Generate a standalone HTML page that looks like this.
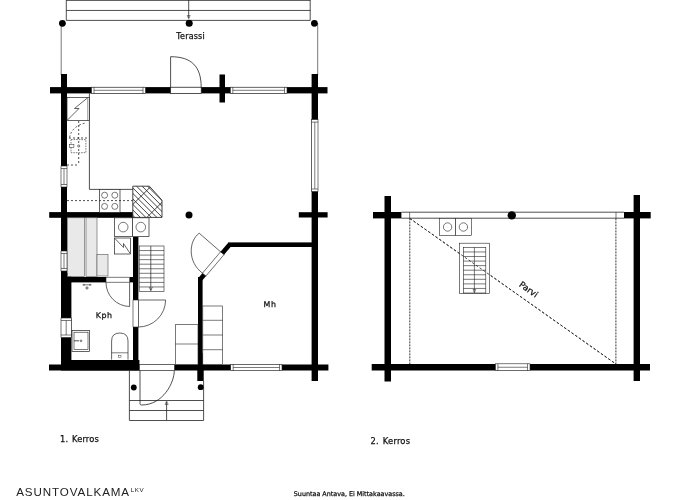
<!DOCTYPE html>
<html lang="fi"><head><meta charset="utf-8"><title>Pohjakuva</title>
<style>html,body{margin:0;padding:0;background:#fff;}body{width:700px;height:500px;overflow:hidden;}svg{display:block;filter:grayscale(1);}</style>
</head><body>
<svg width="700" height="500" viewBox="0 0 700 500">
<rect x="0" y="0" width="700" height="500" fill="#fff"/>
<line x1="66.30" y1="0.40" x2="310.20" y2="0.40" stroke="#222" stroke-width="0.8"/>
<line x1="66.30" y1="10.45" x2="310.20" y2="10.45" stroke="#222" stroke-width="0.8"/>
<line x1="66.30" y1="20.40" x2="310.20" y2="20.40" stroke="#222" stroke-width="0.8"/>
<line x1="66.30" y1="0.00" x2="66.30" y2="20.40" stroke="#222" stroke-width="0.8"/>
<line x1="310.20" y1="0.00" x2="310.20" y2="20.40" stroke="#222" stroke-width="0.8"/>
<line x1="188.70" y1="0.00" x2="188.70" y2="18.00" stroke="#222" stroke-width="0.8"/>
<path d="M187.2,15.5 L188.7,18.8 L190.2,15.5 Z" fill="none" stroke="#222" stroke-width="0.5"/>
<line x1="61.20" y1="23.00" x2="61.20" y2="75.00" stroke="#555" stroke-width="0.8"/>
<line x1="317.70" y1="23.00" x2="317.70" y2="75.00" stroke="#555" stroke-width="0.8"/>
<circle cx="62.40" cy="23.30" r="3.40" fill="#000"/>
<circle cx="189.20" cy="23.30" r="3.50" fill="#000"/>
<circle cx="314.40" cy="23.30" r="3.40" fill="#000"/>
<rect x="61.00" y="74.00" width="6.00" height="291.00" fill="#000"/>
<rect x="50.00" y="87.10" width="277.50" height="6.30" fill="#000"/>
<rect x="219.50" y="74.50" width="5.50" height="28.00" fill="#000"/>
<rect x="311.60" y="74.00" width="6.40" height="307.00" fill="#000"/>
<rect x="49.20" y="212.10" width="84.20" height="5.70" fill="#000"/>
<rect x="298.80" y="212.20" width="28.80" height="5.30" fill="#000"/>
<rect x="49.00" y="364.50" width="279.40" height="6.00" fill="#000"/>
<rect x="61.00" y="360.00" width="78.40" height="10.50" fill="#000"/>
<rect x="61.00" y="273.00" width="10.40" height="97.00" fill="#000"/>
<rect x="133.00" y="237.00" width="5.40" height="128.00" fill="#000"/>
<rect x="61.00" y="277.00" width="45.00" height="5.40" fill="#000"/>
<rect x="129.60" y="277.00" width="8.40" height="5.40" fill="#000"/>
<rect x="228.00" y="242.40" width="84.00" height="4.60" fill="#000"/>
<path d="M229.5,244.7 L200.5,279" fill="none" stroke="#000" stroke-width="4.6"/>
<rect x="198.00" y="277.00" width="4.60" height="104.00" fill="#000"/>
<rect x="197.30" y="353.00" width="6.40" height="28.00" fill="#000"/>
<rect x="91.50" y="87.20" width="54.00" height="6.20" fill="#fff" stroke="#222" stroke-width="0.6"/>
<line x1="94.00" y1="90.30" x2="143.00" y2="90.30" stroke="#222" stroke-width="0.6"/>
<line x1="94.00" y1="87.20" x2="94.00" y2="93.40" stroke="#222" stroke-width="0.6"/>
<line x1="143.00" y1="87.20" x2="143.00" y2="93.40" stroke="#222" stroke-width="0.6"/>
<rect x="230.30" y="87.20" width="56.70" height="6.20" fill="#fff" stroke="#222" stroke-width="0.6"/>
<line x1="232.80" y1="90.30" x2="284.50" y2="90.30" stroke="#222" stroke-width="0.6"/>
<line x1="232.80" y1="87.20" x2="232.80" y2="93.40" stroke="#222" stroke-width="0.6"/>
<line x1="284.50" y1="87.20" x2="284.50" y2="93.40" stroke="#222" stroke-width="0.6"/>
<rect x="230.70" y="364.30" width="51.30" height="6.40" fill="#fff" stroke="#222" stroke-width="0.6"/>
<line x1="233.20" y1="367.50" x2="279.50" y2="367.50" stroke="#222" stroke-width="0.6"/>
<line x1="233.20" y1="364.30" x2="233.20" y2="370.70" stroke="#222" stroke-width="0.6"/>
<line x1="279.50" y1="364.30" x2="279.50" y2="370.70" stroke="#222" stroke-width="0.6"/>
<rect x="61.00" y="166.00" width="6.00" height="21.00" fill="#fff" stroke="#222" stroke-width="0.6"/>
<line x1="64.00" y1="168.50" x2="64.00" y2="184.50" stroke="#222" stroke-width="0.6"/>
<line x1="61.00" y1="168.50" x2="67.00" y2="168.50" stroke="#222" stroke-width="0.6"/>
<line x1="61.00" y1="184.50" x2="67.00" y2="184.50" stroke="#222" stroke-width="0.6"/>
<rect x="61.00" y="251.00" width="6.00" height="20.00" fill="#fff" stroke="#222" stroke-width="0.6"/>
<line x1="64.00" y1="253.50" x2="64.00" y2="268.50" stroke="#222" stroke-width="0.6"/>
<line x1="61.00" y1="253.50" x2="67.00" y2="253.50" stroke="#222" stroke-width="0.6"/>
<line x1="61.00" y1="268.50" x2="67.00" y2="268.50" stroke="#222" stroke-width="0.6"/>
<rect x="61.00" y="318.00" width="10.40" height="19.50" fill="#fff" stroke="#222" stroke-width="0.6"/>
<line x1="66.20" y1="320.50" x2="66.20" y2="335.00" stroke="#222" stroke-width="0.6"/>
<line x1="61.00" y1="320.50" x2="71.40" y2="320.50" stroke="#222" stroke-width="0.6"/>
<line x1="61.00" y1="335.00" x2="71.40" y2="335.00" stroke="#222" stroke-width="0.6"/>
<rect x="311.60" y="119.60" width="6.40" height="71.90" fill="#fff" stroke="#222" stroke-width="0.6"/>
<line x1="314.80" y1="122.10" x2="314.80" y2="189.00" stroke="#222" stroke-width="0.6"/>
<line x1="311.60" y1="122.10" x2="318.00" y2="122.10" stroke="#222" stroke-width="0.6"/>
<line x1="311.60" y1="189.00" x2="318.00" y2="189.00" stroke="#222" stroke-width="0.6"/>
<rect x="170.60" y="87.20" width="30.60" height="6.20" fill="#fff" stroke="#222" stroke-width="0.7"/>
<path d="M170.6,87.3 L170.6,56.7 C191.4,56.7 201.2,66.4 201.2,87.3" fill="none" stroke="#222" stroke-width="0.8"/>
<path d="M222.3,253.2 L204.2,274.6" fill="none" stroke="#fff" stroke-width="5.2"/>
<path d="M224.0,254.6 L205.9,276.0" fill="none" stroke="#222" stroke-width="0.6"/>
<path d="M220.6,251.8 L202.5,273.2" fill="none" stroke="#222" stroke-width="0.6"/>
<path d="M222.3,253.2 L220.6,251.8 L199.2,233.2 C188.5,241 187.5,262 202.5,273.2" fill="none" stroke="#222" stroke-width="0.7"/>
<line x1="220.30" y1="251.40" x2="224.30" y2="254.90" stroke="#222" stroke-width="0.6"/>
<line x1="202.20" y1="272.90" x2="206.20" y2="276.30" stroke="#222" stroke-width="0.6"/>
<rect x="106.00" y="277.20" width="23.60" height="5.00" fill="#fff" stroke="#222" stroke-width="0.6"/>
<path d="M129.6,282.3 L129.6,306.5 M129.6,306.5 A24,24 0 0 1 106,282.3" fill="none" stroke="#222" stroke-width="0.7"/>
<rect x="133.00" y="300.00" width="5.40" height="27.00" fill="#fff" stroke="#222" stroke-width="0.6"/>
<path d="M138.4,300 L165.6,300 A27.2,27.2 0 0 1 138.4,327" fill="none" stroke="#222" stroke-width="0.7"/>
<rect x="139.40" y="364.40" width="35.10" height="6.20" fill="#fff" stroke="#222" stroke-width="0.6"/>
<path d="M140,370.5 L140,403.5 Q140,405 141.5,405 C163.3,405 174.3,382.4 174.3,370.5" fill="none" stroke="#222" stroke-width="0.8"/>
<line x1="129.40" y1="370.50" x2="129.40" y2="420.40" stroke="#222" stroke-width="0.8"/>
<line x1="203.60" y1="381.00" x2="203.60" y2="420.40" stroke="#222" stroke-width="0.8"/>
<line x1="129.40" y1="400.50" x2="203.60" y2="400.50" stroke="#222" stroke-width="0.8"/>
<line x1="129.40" y1="410.50" x2="203.60" y2="410.50" stroke="#222" stroke-width="0.8"/>
<line x1="129.40" y1="420.50" x2="203.60" y2="420.50" stroke="#222" stroke-width="0.8"/>
<line x1="166.60" y1="420.40" x2="166.60" y2="402.00" stroke="#222" stroke-width="0.8"/>
<path d="M165,404.5 L166.6,401 L168.2,404.5 Z" fill="none" stroke="#222" stroke-width="0.5"/>
<circle cx="133.80" cy="387.50" r="2.90" fill="#000"/>
<circle cx="200.70" cy="387.20" r="2.90" fill="#000"/>
<line x1="89.40" y1="93.20" x2="89.40" y2="189.40" stroke="#222" stroke-width="0.8"/>
<line x1="89.40" y1="189.40" x2="133.00" y2="189.40" stroke="#222" stroke-width="0.8"/>
<rect x="67.00" y="97.40" width="22.40" height="23.20" fill="#fff" stroke="#222" stroke-width="0.7"/>
<line x1="87.80" y1="97.40" x2="87.80" y2="120.60" stroke="#222" stroke-width="0.5"/>
<path d="M67.5,120 L79,108.5 L74.5,108.5 L87.3,98" fill="none" stroke="#222" stroke-width="0.7"/>
<line x1="78.70" y1="121.00" x2="78.70" y2="165.00" stroke="#222" stroke-width="0.8" stroke-dasharray="2,2"/>
<line x1="67.00" y1="165.00" x2="78.70" y2="165.00" stroke="#222" stroke-width="0.8" stroke-dasharray="2,2"/>
<rect x="71" y="139.6" width="14.9" height="13.1" fill="none" stroke="#222" stroke-width="0.6" stroke-dasharray="1.6,1"/>
<path d="M69.5,137.5 Q72,126 85.5,123" fill="none" stroke="#222" stroke-width="0.8" stroke-dasharray="2,2"/>
<line x1="69.00" y1="138.00" x2="89.00" y2="138.00" stroke="#222" stroke-width="0.8" stroke-dasharray="2,2"/>
<rect x="69.40" y="144.60" width="4.50" height="2.80" fill="#fff" stroke="#222" stroke-width="0.5"/>
<circle cx="78.70" cy="146.00" r="1.10" fill="#fff" stroke="#222" stroke-width="0.6"/>
<rect x="99.40" y="189.40" width="20.60" height="23.00" fill="#fff" stroke="#222" stroke-width="0.7"/>
<circle cx="104.60" cy="195.20" r="3.00" fill="#fff" stroke="#222" stroke-width="0.6"/>
<circle cx="104.60" cy="206.40" r="3.00" fill="#fff" stroke="#222" stroke-width="0.6"/>
<circle cx="114.80" cy="195.20" r="3.00" fill="#fff" stroke="#222" stroke-width="0.6"/>
<circle cx="114.80" cy="206.40" r="3.00" fill="#fff" stroke="#222" stroke-width="0.6"/>
<line x1="67.00" y1="200.60" x2="133.00" y2="200.60" stroke="#222" stroke-width="0.8" stroke-dasharray="2,2"/>
<defs><clipPath id="fpc"><path d="M132.8,186.2 L149.4,186.2 L162,200.2 L162,217.4 L132.8,217.4 Z"/></clipPath></defs>
<path d="M132.8,186.2 L149.4,186.2 L162,200.2 L162,217.4 L132.8,217.4 Z" fill="#fff" stroke="#222" stroke-width="0"/>
<g clip-path="url(#fpc)">
<line x1="120.00" y1="158.60" x2="170.00" y2="208.60" stroke="#222" stroke-width="0.85"/>
<line x1="120.00" y1="164.10" x2="170.00" y2="214.10" stroke="#222" stroke-width="0.85"/>
<line x1="120.00" y1="169.60" x2="170.00" y2="219.60" stroke="#222" stroke-width="0.85"/>
<line x1="120.00" y1="175.10" x2="170.00" y2="225.10" stroke="#222" stroke-width="0.85"/>
<line x1="120.00" y1="180.60" x2="170.00" y2="230.60" stroke="#222" stroke-width="0.85"/>
<line x1="120.00" y1="186.10" x2="170.00" y2="236.10" stroke="#222" stroke-width="0.85"/>
<line x1="120.00" y1="191.60" x2="170.00" y2="241.60" stroke="#222" stroke-width="0.85"/>
<line x1="120.00" y1="197.10" x2="170.00" y2="247.10" stroke="#222" stroke-width="0.85"/>
<line x1="120.00" y1="202.60" x2="170.00" y2="252.60" stroke="#222" stroke-width="0.85"/>
<line x1="120.00" y1="208.10" x2="170.00" y2="258.10" stroke="#222" stroke-width="0.85"/>
<line x1="120.00" y1="217.30" x2="170.00" y2="167.30" stroke="#222" stroke-width="0.85"/>
<line x1="120.00" y1="244.30" x2="170.00" y2="194.30" stroke="#222" stroke-width="0.85"/>
</g>
<path d="M132.8,186.2 L149.4,186.2 L162,200.2 L162,217.4 L132.8,217.4 Z" fill="none" stroke="#222" stroke-width="0.85"/>
<rect x="114.40" y="217.80" width="18.00" height="18.80" fill="#fff" stroke="#222" stroke-width="0.7"/>
<rect x="132.40" y="217.80" width="16.60" height="18.80" fill="#fff" stroke="#222" stroke-width="0.7"/>
<circle cx="123.20" cy="227.10" r="4.80" fill="#fff" stroke="#222" stroke-width="0.6"/>
<circle cx="140.80" cy="227.10" r="4.80" fill="#fff" stroke="#222" stroke-width="0.6"/>
<rect x="114.40" y="238.00" width="16.20" height="16.00" fill="#fff" stroke="#222" stroke-width="0.7"/>
<path d="M114.8,238.4 L123.5,247.5 L123.5,243.5 L130.2,253.6" fill="none" stroke="#222" stroke-width="0.7"/>
<rect x="67.50" y="217.80" width="16.90" height="58.80" fill="#e9e9e9" stroke="#555" stroke-width="0.6"/>
<rect x="86.00" y="217.80" width="11.00" height="58.80" fill="#e9e9e9" stroke="#555" stroke-width="0.6"/>
<rect x="97.00" y="254.40" width="11.00" height="21.60" fill="#e9e9e9" stroke="#555" stroke-width="0.6"/>
<rect x="139.20" y="246.00" width="24.80" height="45.50" fill="#fff" stroke="#222" stroke-width="0.6"/>
<line x1="139.20" y1="250.55" x2="164.00" y2="250.55" stroke="#222" stroke-width="0.6"/>
<line x1="139.20" y1="255.10" x2="164.00" y2="255.10" stroke="#222" stroke-width="0.6"/>
<line x1="139.20" y1="259.65" x2="164.00" y2="259.65" stroke="#222" stroke-width="0.6"/>
<line x1="139.20" y1="264.20" x2="164.00" y2="264.20" stroke="#222" stroke-width="0.6"/>
<line x1="139.20" y1="268.75" x2="164.00" y2="268.75" stroke="#222" stroke-width="0.6"/>
<line x1="139.20" y1="273.30" x2="164.00" y2="273.30" stroke="#222" stroke-width="0.6"/>
<line x1="139.20" y1="277.85" x2="164.00" y2="277.85" stroke="#222" stroke-width="0.6"/>
<line x1="139.20" y1="282.40" x2="164.00" y2="282.40" stroke="#222" stroke-width="0.6"/>
<line x1="139.20" y1="286.95" x2="164.00" y2="286.95" stroke="#222" stroke-width="0.6"/>
<line x1="150.80" y1="246.00" x2="150.80" y2="290.50" stroke="#222" stroke-width="0.7"/>
<path d="M149.2,287 L150.8,290.6 L152.4,287" fill="none" stroke="#222" stroke-width="0.6"/>
<line x1="82.50" y1="284.80" x2="91.50" y2="284.80" stroke="#222" stroke-width="0.6"/>
<line x1="84.00" y1="283.80" x2="84.00" y2="286.00" stroke="#222" stroke-width="0.6"/>
<line x1="90.00" y1="283.80" x2="90.00" y2="286.00" stroke="#222" stroke-width="0.6"/>
<circle cx="87.00" cy="288.00" r="1.10" fill="#fff" stroke="#222" stroke-width="0.7"/>
<rect x="72.00" y="330.40" width="17.60" height="21.00" fill="#fff" stroke="#222" stroke-width="0.7"/>
<rect x="74.00" y="332.20" width="14.00" height="17.20" fill="#fff" stroke="#222" stroke-width="0.6"/>
<line x1="74.00" y1="340.80" x2="79.00" y2="340.80" stroke="#222" stroke-width="0.8"/>
<circle cx="81.00" cy="340.80" r="0.90" fill="#fff" stroke="#222" stroke-width="0.6"/>
<path d="M111.6,359.6 L111.6,341 Q111.6,333 119.8,333 Q128,333 128,341 L128,359.6" fill="#fff" stroke="#222" stroke-width="0.7"/>
<line x1="111.60" y1="352.80" x2="128.00" y2="352.80" stroke="#222" stroke-width="0.6"/>
<rect x="118.60" y="355.20" width="2.40" height="2.00" fill="none" stroke="#222" stroke-width="0.4"/>
<rect x="175.40" y="324.70" width="22.60" height="39.80" fill="#fff" stroke="#222" stroke-width="0.6"/>
<line x1="175.40" y1="344.00" x2="198.00" y2="344.00" stroke="#222" stroke-width="0.6"/>
<rect x="202.80" y="306.00" width="19.70" height="58.50" fill="#fff" stroke="#222" stroke-width="0.6"/>
<line x1="202.80" y1="320.30" x2="222.50" y2="320.30" stroke="#222" stroke-width="0.6"/>
<line x1="202.80" y1="335.00" x2="222.50" y2="335.00" stroke="#222" stroke-width="0.6"/>
<line x1="202.80" y1="349.70" x2="222.50" y2="349.70" stroke="#222" stroke-width="0.6"/>
<circle cx="189.00" cy="215.00" r="3.50" fill="#000"/>
<rect x="384.50" y="196.00" width="6.50" height="185.50" fill="#000"/>
<rect x="633.60" y="195.00" width="6.40" height="186.00" fill="#000"/>
<rect x="373.00" y="212.00" width="28.40" height="6.40" fill="#000"/>
<rect x="624.00" y="212.00" width="26.70" height="6.40" fill="#000"/>
<rect x="371.70" y="364.00" width="278.30" height="6.50" fill="#000"/>
<rect x="495.40" y="363.80" width="34.60" height="6.90" fill="#fff" stroke="#222" stroke-width="0.6"/>
<line x1="497.90" y1="367.25" x2="527.50" y2="367.25" stroke="#222" stroke-width="0.6"/>
<line x1="497.90" y1="363.80" x2="497.90" y2="370.70" stroke="#222" stroke-width="0.6"/>
<line x1="527.50" y1="363.80" x2="527.50" y2="370.70" stroke="#222" stroke-width="0.6"/>
<line x1="401.40" y1="212.20" x2="624.00" y2="212.20" stroke="#222" stroke-width="0.8"/>
<line x1="401.40" y1="218.20" x2="624.00" y2="218.20" stroke="#222" stroke-width="0.8"/>
<line x1="409.60" y1="212.20" x2="409.60" y2="218.20" stroke="#222" stroke-width="0.6"/>
<line x1="616.00" y1="212.20" x2="616.00" y2="218.20" stroke="#222" stroke-width="0.6"/>
<circle cx="511.80" cy="215.40" r="4.20" fill="#000"/>
<line x1="409.80" y1="218.40" x2="409.80" y2="364.00" stroke="#222" stroke-width="0.9" stroke-dasharray="2,1"/>
<line x1="615.90" y1="218.40" x2="615.90" y2="364.00" stroke="#222" stroke-width="0.9" stroke-dasharray="2,1"/>
<line x1="409.80" y1="218.40" x2="615.90" y2="364.00" stroke="#222" stroke-width="0.8" stroke-dasharray="2.5,2"/>
<rect x="439.60" y="218.40" width="16.00" height="17.00" fill="#fff" stroke="#222" stroke-width="0.6"/>
<rect x="455.60" y="218.40" width="15.80" height="17.00" fill="#fff" stroke="#222" stroke-width="0.6"/>
<circle cx="447.60" cy="227.00" r="4.20" fill="#fff" stroke="#222" stroke-width="0.6"/>
<circle cx="463.40" cy="227.00" r="4.20" fill="#fff" stroke="#222" stroke-width="0.6"/>
<rect x="459.40" y="243.20" width="30.00" height="50.40" fill="#fff" stroke="#222" stroke-width="0.6"/>
<rect x="463.40" y="247.40" width="22.40" height="45.60" fill="#fff" stroke="#222" stroke-width="0.6"/>
<line x1="463.40" y1="251.96" x2="485.80" y2="251.96" stroke="#222" stroke-width="0.6"/>
<line x1="463.40" y1="256.52" x2="485.80" y2="256.52" stroke="#222" stroke-width="0.6"/>
<line x1="463.40" y1="261.08" x2="485.80" y2="261.08" stroke="#222" stroke-width="0.6"/>
<line x1="463.40" y1="265.64" x2="485.80" y2="265.64" stroke="#222" stroke-width="0.6"/>
<line x1="463.40" y1="270.20" x2="485.80" y2="270.20" stroke="#222" stroke-width="0.6"/>
<line x1="463.40" y1="274.76" x2="485.80" y2="274.76" stroke="#222" stroke-width="0.6"/>
<line x1="463.40" y1="279.32" x2="485.80" y2="279.32" stroke="#222" stroke-width="0.6"/>
<line x1="463.40" y1="283.88" x2="485.80" y2="283.88" stroke="#222" stroke-width="0.6"/>
<line x1="463.40" y1="288.44" x2="485.80" y2="288.44" stroke="#222" stroke-width="0.6"/>
<line x1="474.40" y1="247.40" x2="474.40" y2="292.50" stroke="#222" stroke-width="0.6"/>
<path d="M473,289.5 L474.4,292.8 L475.8,289.5 Z" fill="none" stroke="#222" stroke-width="0.5"/>
<line x1="409.80" y1="218.40" x2="615.90" y2="364.00" stroke="#222" stroke-width="0.8" stroke-dasharray="2.5,2"/>
<text x="176.30" y="38.60" font-size="8.0" font-family='"DejaVu Sans", "Liberation Sans", sans-serif' fill="#111" stroke="#111" stroke-width="0.25" letter-spacing="0.2">Terassi</text>
<text x="95.80" y="318.00" font-size="7.9" font-family='"DejaVu Sans", "Liberation Sans", sans-serif' fill="#111" stroke="#111" stroke-width="0.25" letter-spacing="0.5">Kph</text>
<text x="263.60" y="307.30" font-size="7.9" font-family='"DejaVu Sans", "Liberation Sans", sans-serif' fill="#111" stroke="#111" stroke-width="0.25" letter-spacing="0.5">Mh</text>
<text x="60.00" y="441.70" font-size="8.3" font-family='"DejaVu Sans", "Liberation Sans", sans-serif' fill="#111" stroke="#111" stroke-width="0.25" word-spacing="1" letter-spacing="0.15">1. Kerros</text>
<text x="370.50" y="443.50" font-size="8.4" font-family='"DejaVu Sans", "Liberation Sans", sans-serif' fill="#111" stroke="#111" stroke-width="0.25" word-spacing="1" letter-spacing="0.2">2. Kerros</text>
<text x="293.80" y="496.30" font-size="6.4" font-family='"DejaVu Sans", "Liberation Sans", sans-serif' fill="#111" stroke="#111" stroke-width="0.25">Suuntaa Antava, Ei Mittakaavassa.</text>
<g transform="translate(518.4,285.7) rotate(35.5)"><text x="0" y="0" font-size="8.5" font-family='"DejaVu Sans", sans-serif' fill="#111" stroke="#111" stroke-width="0.25">Parvi</text></g>
<g transform="translate(16.2,495.6) scale(1.15,1)"><text x="0" y="0" font-size="10.1" font-family='"Liberation Sans", sans-serif' fill="#222" letter-spacing="0.78">ASUNTOVALKAMA</text></g>
<g transform="translate(130.8,492.4) scale(1.0,1)"><text x="0" y="0" font-size="6.2" font-family='"Liberation Sans", sans-serif' fill="#222" letter-spacing="0.6">LKV</text></g>
</svg>
</body></html>
